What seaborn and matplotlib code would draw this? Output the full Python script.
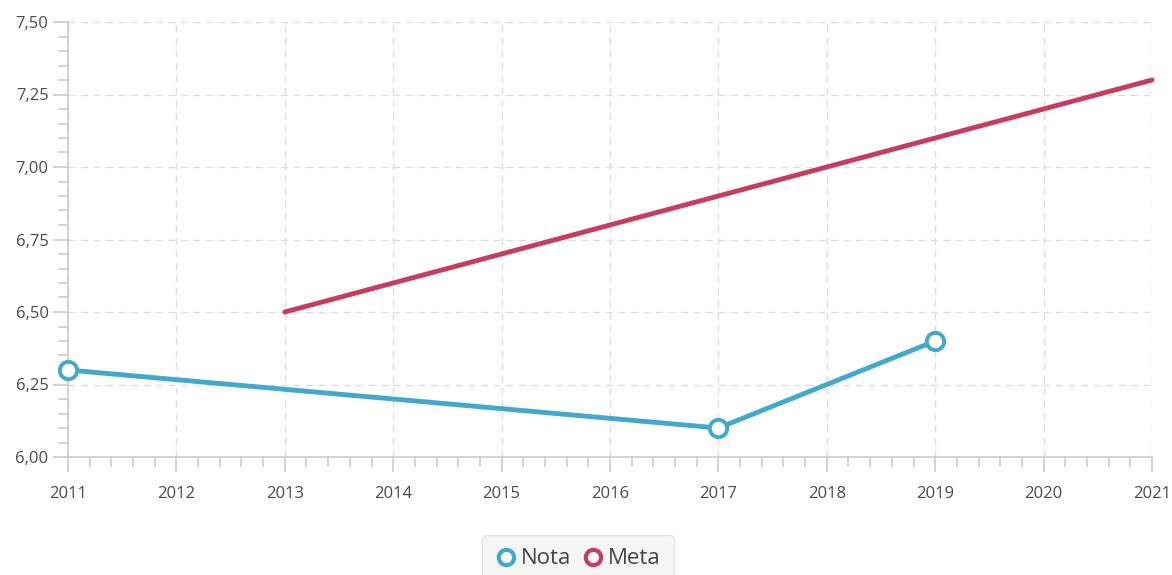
import pandas as pd
import numpy as np
import matplotlib.pyplot as plt
import seaborn as sns
from matplotlib.lines import Line2D
from matplotlib.ticker import MultipleLocator, FuncFormatter

# data
nota_years = [2011, 2017, 2019]
nota_vals = [6.30, 6.10, 6.40]
meta_years = [2013, 2014, 2015, 2016, 2017, 2018, 2019, 2020, 2021]
meta_vals = [6.50, 6.60, 6.70, 6.80, 6.90, 7.00, 7.10, 7.20, 7.30]

blue = '#43a9cc'
red = '#c73c60'

sns.set_style('white')
plt.rcParams['font.family'] = ['Open Sans', 'DejaVu Sans']

df_nota = pd.DataFrame({'Ano': nota_years, 'Valor': nota_vals})
df_meta = pd.DataFrame({'Ano': meta_years, 'Valor': meta_vals})

fig = plt.figure(figsize=(11.72, 5.75), dpi=100)
ax = fig.add_axes([68/1172, 1-457/575, (1152-68)/1172, (457-22)/575])

sns.lineplot(data=df_meta, x='Ano', y='Valor', color=red, linewidth=3.5, ax=ax,
             zorder=3, clip_on=False)
sns.lineplot(data=df_nota, x='Ano', y='Valor', color=blue, linewidth=3.5, ax=ax,
             marker='o', markersize=12.5, markerfacecolor='white',
             markeredgecolor=blue, markeredgewidth=2.8, zorder=4, clip_on=False)

ax.set_xlim(2011, 2021)
ax.set_ylim(6.0, 7.5)
ax.xaxis.set_major_locator(MultipleLocator(1))
ax.xaxis.set_minor_locator(MultipleLocator(0.2))
ax.yaxis.set_major_locator(MultipleLocator(0.25))
ax.yaxis.set_minor_locator(MultipleLocator(0.05))
ax.yaxis.set_major_formatter(FuncFormatter(lambda v, p: f'{v:.2f}'.replace('.', ',')))
ax.xaxis.set_major_formatter(FuncFormatter(lambda v, p: f'{int(round(v))}'))

ax.grid(True, which='major', linestyle=(0, (5, 4)), color='#dddddd', linewidth=1)
ax.set_axisbelow(True)
for s in ['top', 'right']:
    ax.spines[s].set_visible(False)
for s in ['left', 'bottom']:
    ax.spines[s].set_color('#cccccc')
    ax.spines[s].set_linewidth(1.2)

ax.tick_params(axis='both', which='both', bottom=True, left=True, direction='out')
ax.tick_params(axis='both', which='major', length=11, width=1.2, color='#cccccc',
               labelcolor='#4a4a4a', labelsize=12)
ax.tick_params(axis='both', which='minor', length=7.5, width=1.2, color='#cccccc')
ax.tick_params(axis='x', which='major', pad=10)
ax.tick_params(axis='y', which='major', pad=3)
ax.set_xlabel('')
ax.set_ylabel('')

handles = [
    Line2D([], [], linestyle='none', marker='o', markersize=11, markerfacecolor='white',
           markeredgecolor=blue, markeredgewidth=3),
    Line2D([], [], linestyle='none', marker='o', markersize=11, markerfacecolor='white',
           markeredgecolor=red, markeredgewidth=3),
]
leg = fig.legend(handles, ['Nota', 'Meta'], loc='upper center', bbox_to_anchor=(578/1172, 1-524/575),
                 ncol=2, frameon=True, fontsize=16, handletextpad=0.15, columnspacing=0.5,
                 handlelength=1.0, borderpad=0.6, fancybox=True)
leg.get_frame().set_facecolor('#f3f3f3')
leg.get_frame().set_edgecolor('#e2e2e2')
for t in leg.get_texts():
    t.set_color('#444444')

fig.savefig('out.png', dpi=100)
